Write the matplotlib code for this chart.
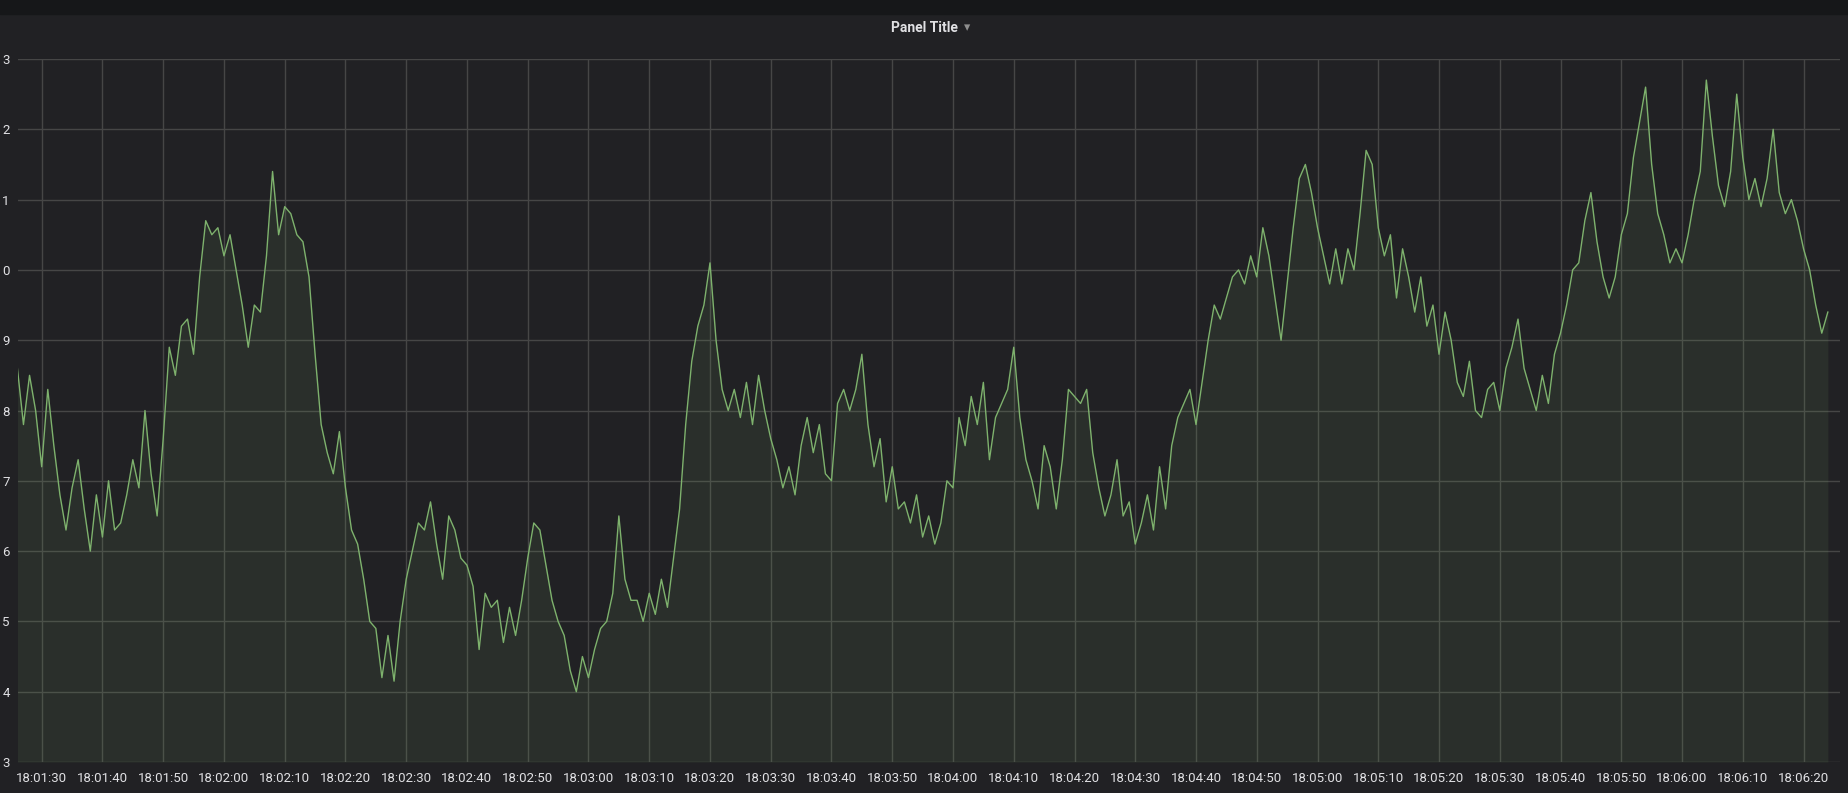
import numpy as np
import matplotlib
matplotlib.use("Agg")
import matplotlib.pyplot as plt
from matplotlib.ticker import FuncFormatter

plt.rcParams['font.family'] = ['Roboto', 'DejaVu Sans']

# seconds after 18:01:00
t_start = 26
values = [
    18.6, 17.8, 18.5, 18.0, 17.2,
    18.3, 17.5, 16.8, 16.3, 16.9, 17.3, 16.6, 16.0, 16.8, 16.2,
    17.0, 16.3, 16.4, 16.8, 17.3, 16.9, 18.0, 17.1, 16.5, 17.6,
    18.9, 18.5, 19.2, 19.3, 18.8, 19.9, 20.7, 20.5, 20.6, 20.2,
    20.5, 20.0, 19.5, 18.9, 19.5, 19.4, 20.2, 21.4, 20.5, 20.9,
    20.8, 20.5, 20.4, 19.9, 18.8, 17.8, 17.4, 17.1, 17.7, 16.9,
    16.3, 16.1, 15.6, 15.0, 14.9, 14.2, 14.8, 14.15, 15.0, 15.6,
    16.0, 16.4, 16.3, 16.7, 16.1, 15.6, 16.5, 16.3, 15.9, 15.8,
    15.5, 14.6, 15.4, 15.2, 15.3, 14.7, 15.2, 14.8, 15.3, 15.9,
    16.4, 16.3, 15.8, 15.3, 15.0, 14.8, 14.3, 14.0, 14.5, 14.2,
    14.6, 14.9, 15.0, 15.4, 16.5, 15.6, 15.3, 15.3, 15.0, 15.4,
    15.1, 15.6, 15.2, 15.9, 16.6, 17.8, 18.7, 19.2, 19.5, 20.1,
    19.0, 18.3, 18.0, 18.3, 17.9, 18.4, 17.8, 18.5, 18.0, 17.6,
    17.3, 16.9, 17.2, 16.8, 17.5, 17.9, 17.4, 17.8, 17.1, 17.0,
    18.1, 18.3, 18.0, 18.3, 18.8, 17.8, 17.2, 17.6, 16.7, 17.2,
    16.6, 16.7, 16.4, 16.8, 16.2, 16.5, 16.1, 16.4, 17.0, 16.9,
    17.9, 17.5, 18.2, 17.8, 18.4, 17.3, 17.9, 18.1, 18.3, 18.9,
    17.9, 17.3, 17.0, 16.6, 17.5, 17.2, 16.6, 17.3, 18.3, 18.2,
    18.1, 18.3, 17.4, 16.9, 16.5, 16.8, 17.3, 16.5, 16.7, 16.1,
    16.4, 16.8, 16.3, 17.2, 16.6, 17.5, 17.9, 18.1, 18.3, 17.8,
    18.4, 19.0, 19.5, 19.3, 19.6, 19.9, 20.0, 19.8, 20.2, 19.9,
    20.6, 20.2, 19.6, 19.0, 19.8, 20.6, 21.3, 21.5, 21.1, 20.6,
    20.2, 19.8, 20.3, 19.8, 20.3, 20.0, 20.8, 21.7, 21.5, 20.6,
    20.2, 20.5, 19.6, 20.3, 19.9, 19.4, 19.9, 19.2, 19.5, 18.8,
    19.4, 19.0, 18.4, 18.2, 18.7, 18.0, 17.9, 18.3, 18.4, 18.0,
    18.6, 18.9, 19.3, 18.6, 18.3, 18.0, 18.5, 18.1, 18.8, 19.1,
    19.5, 20.0, 20.1, 20.7, 21.1, 20.4, 19.9, 19.6, 19.9, 20.5,
    20.8, 21.6, 22.1, 22.6, 21.5, 20.8, 20.5, 20.1, 20.3, 20.1,
    20.5, 21.0, 21.4, 22.7, 21.9, 21.2, 20.9, 21.4, 22.5, 21.6,
    21.0, 21.3, 20.9, 21.3, 22.0, 21.1, 20.8, 21.0, 20.7, 20.3,
    20.0, 19.5, 19.1, 19.4,
]
y_ticks = list(range(13, 24))
x_ticks = list(range(30, 330, 10))

t = np.arange(t_start, t_start + len(values))
bg = "#212124"
line_col = "#7eb26d"

fig = plt.figure(figsize=(18.49, 7.93), dpi=100, facecolor=bg)
fig.patches.append(plt.Rectangle((0, 1 - 14 / 793), 1, 14 / 793, transform=fig.transFigure,
                                 color="#161719", zorder=0))
ax = fig.add_axes([18 / 1849, 1 - 762 / 793, (1840 - 18) / 1849, (762 - 59) / 793])
ax.set_facecolor(bg)

ax.fill_between(t, 13, values, color=line_col, alpha=0.1, lw=0)
ax.plot(t, values, color=line_col, lw=1)

ax.set_xlim(26.1, 326)
ax.set_ylim(13, 23)
ax.set_xticks(x_ticks)
ax.set_yticks(y_ticks)
ax.xaxis.set_major_formatter(FuncFormatter(lambda v, p: "18:%02d:%02d" % (1 + int(v) // 60, int(v) % 60)))
ax.yaxis.set_major_formatter(FuncFormatter(lambda v, p: "%d" % (int(round(v)) % 10)))
ax.grid(True, color="#464646", lw=1)
ax.set_axisbelow(True)
for s in ax.spines.values():
    s.set_visible(False)
ax.tick_params(length=0, colors="#e0e0e3", labelsize=9.5)
ax.tick_params(axis="x", pad=7)
ax.tick_params(axis="y", pad=6)

fig.text(0.5, 1 - 28 / 793, "Panel Title", color="#e0e0e3", fontsize=10, fontweight="bold",
         ha="center", va="center")
fig.text(0.5 + 43 / 1849, 1 - 28 / 793, "\u25BE", color="#8e8e8e", fontsize=9,
         family="DejaVu Sans", ha="center", va="center")

fig.savefig("out.png", dpi=100, facecolor=bg)
